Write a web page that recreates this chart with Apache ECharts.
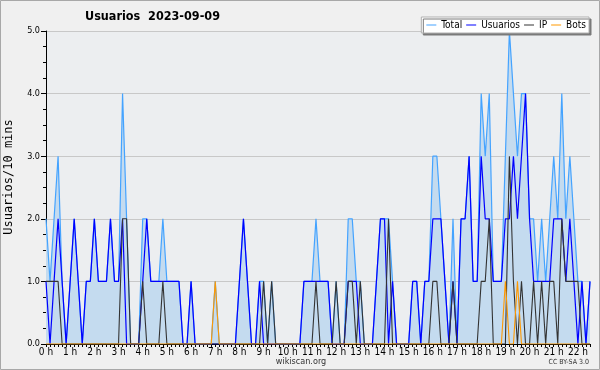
<!DOCTYPE html>
<html>
<head>
<meta charset="utf-8">
<script src="https://cdn.jsdelivr.net/npm/echarts@6/dist/echarts.min.js"></script>
<style>
html,body{margin:0;padding:0;background:#f0f0f0;}
#c{width:600px;height:370px;}
</style>
</head>
<body>
<div id="c"></div>
<script>
// 10-minute slots from 00:00 to 22:30 (index 0..135)
const hourLabels = ["0 h","1 h","2 h","3 h","4 h","5 h","6 h","7 h","8 h","9 h","10 h","11 h","12 h","13 h","14 h","15 h","16 h","17 h","18 h","19 h","20 h","21 h","22 h"];
const yTicks = [0,1,2,3,4,5];

const total = [
 2,1,2,3,1,0,1,2,1,0,
 1,1,2,1,1,1,2,1,1,4,
 2,0,0,0,2,2,1,1,1,2,
 1,1,1,1,0,0,1,0,0,0,
 0,0,1,0,0,0,0,0,1,2,
 1,0,0,1,1,0,1,0,0,0,
 0,0,0,0,1,1,1,2,1,1,
 1,0,1,0,0,2,2,1,1,0,
 0,0,1,2,2,2,1,0,0,0,
 0,1,1,0,1,1,3,3,2,1,
 0,2,0,2,2,3,1,1,4,3,
 4,1,1,1,3,5,4,3,4,4,
 2,2,1,2,1,2,3,2,4,2,
 3,2,1,1,0,1];
const usuarios = [
 1,0,1,2,1,0,1,2,1,0,
 1,1,2,1,1,1,2,1,1,2,
 0,0,0,0,1,2,1,1,1,1,
 1,1,1,1,0,0,1,0,0,0,
 0,0,0,0,0,0,0,0,1,2,
 1,0,0,1,0,0,0,0,0,0,
 0,0,0,0,1,1,1,1,1,1,
 1,0,0,0,0,1,1,1,0,0,
 0,0,1,2,2,0,1,0,0,0,
 0,1,1,0,1,1,2,2,2,1,
 0,1,0,2,2,3,1,1,3,2,
 2,1,1,1,2,2,3,2,3,4,
 2,1,1,1,1,1,2,2,2,1,
 2,1,0,1,0,1];
const ip = [
 1,1,1,1,0,0,0,0,0,0,
 0,0,0,0,0,0,0,0,0,2,
 2,0,0,0,1,0,0,0,0,1,
 0,0,0,0,0,0,0,0,0,0,
 0,0,0,0,0,0,0,0,0,0,
 0,0,0,0,1,0,1,0,0,0,
 0,0,0,0,0,0,0,1,0,0,
 0,0,1,0,0,1,1,0,1,0,
 0,0,0,0,0,2,0,0,0,0,
 0,0,0,0,0,0,1,1,0,0,
 0,1,0,0,0,0,0,0,1,1,
 2,0,0,0,0,3,1,0,1,0,
 0,1,0,1,0,1,1,0,2,1,
 1,1,1,0,0,0];
const bots = [
 0,0,0,0,0,0,0,0,0,0,
 0,0,0,0,0,0,0,0,0,0,
 0,0,0,0,0,0,0,0,0,0,
 0,0,0,0,0,0,0,0,0,0,
 0,0,1,0,0,0,0,0,0,0,
 0,0,0,0,0,0,0,0,0,0,
 0,0,0,0,0,0,0,0,0,0,
 0,0,0,0,0,0,0,0,0,0,
 0,0,0,0,0,0,0,0,0,0,
 0,0,0,0,0,0,0,0,0,0,
 0,0,0,0,0,0,0,0,0,0,
 0,0,0,0,1,0,0,1,0,0,
 0,0,0,0,0,0,0,0,0,0,
 0,0,0,0,0,0];

const pts = arr => arr.map((v,i)=>[i,v]);
const F = '"DejaVu Sans Condensed", "Liberation Sans", sans-serif';

const chart = echarts.init(document.getElementById('c'), null, {renderer:'canvas'});
chart.setOption({
  animation:false,
  backgroundColor:'#f0f0f0',
  textStyle:{fontFamily:F},
  grid:{left:46,right:10,top:31,bottom:26,show:true,backgroundColor:'#eceef0',borderWidth:0},
  legend:{
    right:11, top:17,
    orient:'horizontal',
    backgroundColor:'#ffffff',
    borderColor:'#b0b0b0', borderWidth:1,
    shadowColor:'#7a7a7a', shadowOffsetX:2, shadowOffsetY:2, shadowBlur:0,
    padding:[3,3,3,5],
    itemGap:4, itemWidth:10, itemHeight:1,
    icon:'rect',
    textStyle:{fontSize:10,color:'#000',fontFamily:F},
    data:['Total','Usuarios','IP','Bots']
  },
  xAxis:{
    type:'value', min:0, max:135, interval:1,
    axisLine:{lineStyle:{color:'#000',width:1}},
    axisTick:{show:true,length:3,lineStyle:{color:'#000'}},
    splitLine:{show:false},
    axisLabel:{
      color:'#000', fontSize:10, margin:3, fontFamily:F,
      formatter:v=> (v%6===0 && hourLabels[v/6]!==undefined) ? hourLabels[v/6] : ''
    }
  },
  yAxis:{
    type:'value', min:yTicks[0], max:yTicks[yTicks.length-1], interval:1,
    axisLine:{show:true,lineStyle:{color:'#000',width:1}},
    axisTick:{show:true,length:5,lineStyle:{color:'#000'}},
    minorTick:{show:true,splitNumber:4,length:3,lineStyle:{color:'#000'}},
    splitLine:{show:true,lineStyle:{color:'#c8c8c8',width:1}},
    axisLabel:{color:'#000',fontSize:9,margin:6,fontFamily:F,formatter:v=>v.toFixed(1)}
  },
  graphic:[
    {type:'rect',shape:{x:0.5,y:0.5,width:599,height:369},style:{fill:null,stroke:'#a8a8a8',lineWidth:1},z:100},
    {type:'text',x:85,y:17,style:{text:'Usuarios  2023-09-09',font:'bold 12.5px "DejaVu Sans Condensed", "Liberation Sans", sans-serif',fill:'#000',verticalAlign:'middle'}},
    {type:'text',x:9,y:177,rotation:Math.PI/2,style:{text:'Usuarios/10 mins',font:'12px "DejaVu Sans Mono", monospace',fill:'#000',align:'center',verticalAlign:'middle'}},
    {type:'text',x:301,y:362,style:{text:'wikiscan.org',font:'9px "DejaVu Sans Condensed", "Liberation Sans", sans-serif',fill:'#333',align:'center',verticalAlign:'middle'}},
    {type:'text',x:589,y:362,style:{text:'CC BY-SA 3.0',font:'7px "DejaVu Sans Condensed", "Liberation Sans", sans-serif',fill:'#333',align:'right',verticalAlign:'middle'}}
  ],
  series:[
    {name:'Total',type:'line',data:pts(total),symbol:'none',z:2,
     lineStyle:{color:'#44a3ff',width:1.2},itemStyle:{color:'#44a3ff'},
     areaStyle:{color:'#c4dbef',opacity:1}},
    {name:'Usuarios',type:'line',data:pts(usuarios),symbol:'none',z:3,
     lineStyle:{color:'#0000ff',width:1.2},itemStyle:{color:'#0000ff'}},
    {name:'IP',type:'line',data:pts(ip),symbol:'none',z:4,
     lineStyle:{color:'#333333',width:1.1},itemStyle:{color:'#333333'}},
    {name:'Bots',type:'line',data:pts(bots),symbol:'none',z:5,
     lineStyle:{color:'#ff9900',width:1.1},itemStyle:{color:'#ff9900'}}
  ]
});
</script>
</body>
</html>
